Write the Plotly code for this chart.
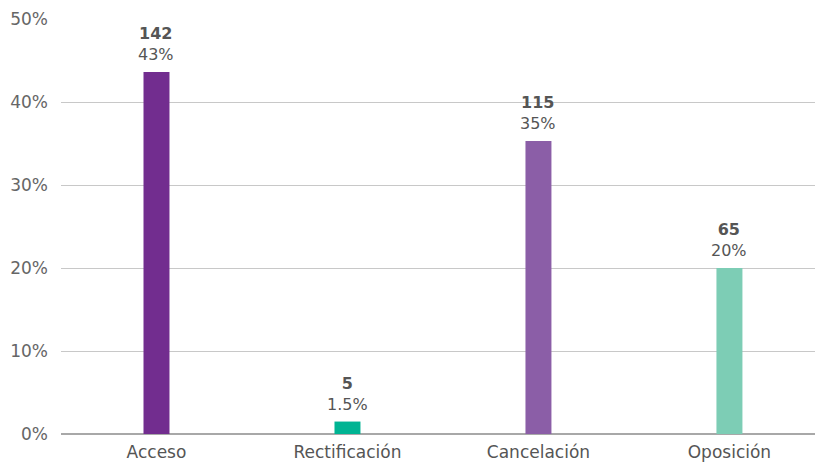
import plotly.graph_objects as go

# Data
categories = ['Acceso', 'Rectificación', 'Cancelación', 'Oposición']
counts = [142, 5, 115, 65]
shares = [0.436, 0.015, 0.353, 0.200]
share_labels = ['43%', '1.5%', '35%', '20%']
colors = ['#722d8f', '#00b493', '#8b5ea7', '#7dcdb5']

fig = go.Figure()

fig.add_trace(go.Bar(
    x=categories,
    y=shares,
    width=0.136,
    marker=dict(color=colors, line=dict(width=0)),
    hoverinfo='x+y'
))

# count (bold) and share above each bar
for cat, cnt, val, lab in zip(categories, counts, shares, share_labels):
    fig.add_annotation(
        x=cat, y=val,
        text=f'<b>{cnt}</b><br>{lab}',
        showarrow=False,
        yanchor='bottom',
        yshift=6,
        font=dict(size=16, color='#555555'),
    )

fig.update_layout(
    width=815,
    height=464,
    plot_bgcolor='white',
    paper_bgcolor='white',
    font=dict(family='DejaVu Sans, sans-serif', color='#555555', size=16),
    showlegend=False,
    margin=dict(l=61, r=0, t=19, b=30),
    xaxis=dict(
        range=[-0.5, 3.448],
        showgrid=False,
        showline=False,
        ticks='',
        automargin=False,
        ticklabelstandoff=6,
        tickfont=dict(size=17, color='#555555'),
    ),
    yaxis=dict(
        range=[0, 0.5],
        dtick=0.1,
        tickformat='.0%',
        showgrid=True,
        gridcolor='#c8c8c8',
        gridwidth=1,
        zeroline=True,
        zerolinecolor='#a8a8a8',
        zerolinewidth=2,
        showline=False,
        ticks='',
        automargin=False,
        ticklabelstandoff=12,
        tickfont=dict(size=17, color='#666666'),
    ),
)

# page body has a default 8px margin; drop it so the chart sits at 0,0
fig.write_html('out.html', config={'displayModeBar': False},
               post_script="document.body.style.margin='0';")
